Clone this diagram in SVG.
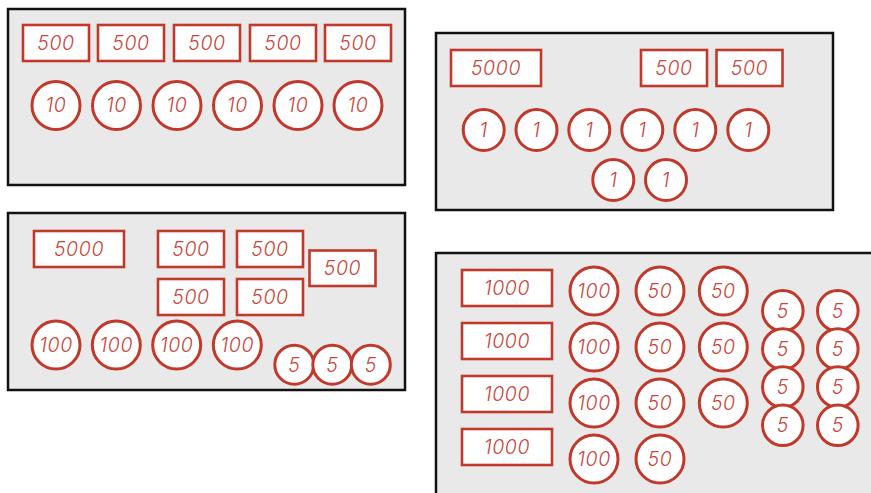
<svg xmlns="http://www.w3.org/2000/svg" width="871" height="493" viewBox="0 0 871 493">
<style>
.panel{fill:#e9e9e9;stroke:#111;stroke-width:2.5}
.note{fill:#fff;stroke:#c0392b;stroke-width:2.6}
.coin{fill:#fff;stroke:#c0392b;stroke-width:3}
.t{font-family:Inter,"DejaVu Sans",sans-serif;font-style:italic;font-weight:300;font-size:19.5px;letter-spacing:0.6px;fill:#c8463d;text-anchor:middle}
</style>
<rect width="871" height="493" fill="#fff"/>
<g id="panel1">
<rect class="panel" x="8" y="9" width="397" height="176"/>
<g id="p1n1"><rect class="note" x="23" y="25" width="66" height="36"/><text class="t" x="56" y="50">500</text></g>
<g id="p1n2"><rect class="note" x="98" y="25" width="66" height="36"/><text class="t" x="131" y="50">500</text></g>
<g id="p1n3"><rect class="note" x="174" y="25" width="66" height="36"/><text class="t" x="207" y="50">500</text></g>
<g id="p1n4"><rect class="note" x="250" y="25" width="66" height="36"/><text class="t" x="283" y="50">500</text></g>
<g id="p1n5"><rect class="note" x="325" y="25" width="66" height="36"/><text class="t" x="358" y="50">500</text></g>
<g id="p1c1"><circle class="coin" cx="56" cy="105.5" r="24"/><text class="t" x="56" y="112">10</text></g>
<g id="p1c2"><circle class="coin" cx="116.5" cy="105.5" r="24"/><text class="t" x="116.5" y="112">10</text></g>
<g id="p1c3"><circle class="coin" cx="177" cy="105.5" r="24"/><text class="t" x="177" y="112">10</text></g>
<g id="p1c4"><circle class="coin" cx="237.5" cy="105.5" r="24"/><text class="t" x="237.5" y="112">10</text></g>
<g id="p1c5"><circle class="coin" cx="298" cy="105.5" r="24"/><text class="t" x="298" y="112">10</text></g>
<g id="p1c6"><circle class="coin" cx="358" cy="105.5" r="24"/><text class="t" x="358" y="112">10</text></g>
</g>
<g id="panel2">
<rect class="panel" x="436" y="33" width="397" height="177"/>
<g id="p2n1"><rect class="note" x="451" y="50" width="90" height="36"/><text class="t" x="496" y="75">5000</text></g>
<g id="p2n2"><rect class="note" x="641" y="50" width="66" height="36"/><text class="t" x="674" y="75">500</text></g>
<g id="p2n3"><rect class="note" x="716.5" y="50" width="66" height="36"/><text class="t" x="749.5" y="75">500</text></g>
<g id="p2c1"><circle class="coin" cx="483.7" cy="130" r="20.5"/><text class="t" x="483.7" y="137">1</text></g>
<g id="p2c2"><circle class="coin" cx="536.5" cy="130" r="20.5"/><text class="t" x="536.5" y="137">1</text></g>
<g id="p2c3"><circle class="coin" cx="589.3" cy="130" r="20.5"/><text class="t" x="589.3" y="137">1</text></g>
<g id="p2c4"><circle class="coin" cx="642.3" cy="130" r="20.5"/><text class="t" x="642.3" y="137">1</text></g>
<g id="p2c5"><circle class="coin" cx="695.3" cy="130" r="20.5"/><text class="t" x="695.3" y="137">1</text></g>
<g id="p2c6"><circle class="coin" cx="748.3" cy="130" r="20.5"/><text class="t" x="748.3" y="137">1</text></g>
<g id="p2c7"><circle class="coin" cx="613.3" cy="180" r="20.5"/><text class="t" x="613.3" y="187">1</text></g>
<g id="p2c8"><circle class="coin" cx="666" cy="180" r="20.5"/><text class="t" x="666" y="187">1</text></g>
</g>
<g id="panel3">
<rect class="panel" x="8" y="213" width="397" height="177"/>
<g id="p3n1"><rect class="note" x="34" y="231" width="90" height="36"/><text class="t" x="79" y="256">5000</text></g>
<g id="p3n2"><rect class="note" x="158" y="231" width="66" height="36"/><text class="t" x="191" y="256">500</text></g>
<g id="p3n3"><rect class="note" x="237" y="231" width="66" height="36"/><text class="t" x="270" y="256">500</text></g>
<g id="p3n4"><rect class="note" x="309.5" y="250.5" width="66" height="35.5"/><text class="t" x="342.5" y="275">500</text></g>
<g id="p3n5"><rect class="note" x="158" y="279" width="66" height="36"/><text class="t" x="191" y="304">500</text></g>
<g id="p3n6"><rect class="note" x="237" y="279" width="66" height="36"/><text class="t" x="270" y="304">500</text></g>
<g id="p3c1"><circle class="coin" cx="56" cy="345" r="24"/><text class="t" x="56" y="351.5">100</text></g>
<g id="p3c2"><circle class="coin" cx="116.3" cy="345" r="24"/><text class="t" x="116.3" y="351.5">100</text></g>
<g id="p3c3"><circle class="coin" cx="176.7" cy="345" r="24"/><text class="t" x="176.7" y="351.5">100</text></g>
<g id="p3c4"><circle class="coin" cx="237.3" cy="345" r="24"/><text class="t" x="237.3" y="351.5">100</text></g>
<g id="p3c5"><circle class="coin" cx="294.3" cy="364.7" r="19.5"/><text class="t" x="294.3" y="371.5">5</text></g>
<g id="p3c6"><circle class="coin" cx="332.3" cy="364.7" r="19.5"/><text class="t" x="332.3" y="371.5">5</text></g>
<g id="p3c7"><circle class="coin" cx="370.8" cy="364.7" r="19.5"/><text class="t" x="370.8" y="371.5">5</text></g>
</g>
<g id="panel4">
<rect class="panel" x="436" y="253" width="440" height="250"/>
<g id="p4n1"><rect class="note" x="462" y="270" width="90" height="36"/><text class="t" x="507" y="295">1000</text></g>
<g id="p4n2"><rect class="note" x="462" y="323" width="90" height="36"/><text class="t" x="507" y="348">1000</text></g>
<g id="p4n3"><rect class="note" x="462" y="376" width="90" height="36"/><text class="t" x="507" y="401">1000</text></g>
<g id="p4n4"><rect class="note" x="462" y="429" width="90" height="36"/><text class="t" x="507" y="454">1000</text></g>
<g id="p4c1"><circle class="coin" cx="594" cy="291" r="24"/><text class="t" x="594" y="297.5">100</text></g>
<g id="p4c2"><circle class="coin" cx="594" cy="347" r="24"/><text class="t" x="594" y="353.5">100</text></g>
<g id="p4c3"><circle class="coin" cx="594" cy="403" r="24"/><text class="t" x="594" y="409.5">100</text></g>
<g id="p4c4"><circle class="coin" cx="594" cy="459" r="24"/><text class="t" x="594" y="465.5">100</text></g>
<g id="p4c5"><circle class="coin" cx="660" cy="291" r="24"/><text class="t" x="660" y="297.5">50</text></g>
<g id="p4c6"><circle class="coin" cx="660" cy="347" r="24"/><text class="t" x="660" y="353.5">50</text></g>
<g id="p4c7"><circle class="coin" cx="660" cy="403" r="24"/><text class="t" x="660" y="409.5">50</text></g>
<g id="p4c8"><circle class="coin" cx="660" cy="459" r="24"/><text class="t" x="660" y="465.5">50</text></g>
<g id="p4c9"><circle class="coin" cx="723.3" cy="291" r="24"/><text class="t" x="723.3" y="297.5">50</text></g>
<g id="p4c10"><circle class="coin" cx="723.3" cy="347" r="24"/><text class="t" x="723.3" y="353.5">50</text></g>
<g id="p4c11"><circle class="coin" cx="723.3" cy="403" r="24"/><text class="t" x="723.3" y="409.5">50</text></g>
<g id="p4c12"><circle class="coin" cx="782.8" cy="310.8" r="20.3"/><text class="t" x="782.8" y="317.5">5</text></g>
<g id="p4c13"><circle class="coin" cx="837.8" cy="310.8" r="20.3"/><text class="t" x="837.8" y="317.5">5</text></g>
<g id="p4c14"><circle class="coin" cx="782.8" cy="349" r="20.3"/><text class="t" x="782.8" y="355.7">5</text></g>
<g id="p4c15"><circle class="coin" cx="837.8" cy="349" r="20.3"/><text class="t" x="837.8" y="355.7">5</text></g>
<g id="p4c16"><circle class="coin" cx="782.8" cy="387" r="20.3"/><text class="t" x="782.8" y="393.7">5</text></g>
<g id="p4c17"><circle class="coin" cx="837.8" cy="387" r="20.3"/><text class="t" x="837.8" y="393.7">5</text></g>
<g id="p4c18"><circle class="coin" cx="782.8" cy="425.3" r="20.3"/><text class="t" x="782.8" y="432">5</text></g>
<g id="p4c19"><circle class="coin" cx="837.8" cy="425.3" r="20.3"/><text class="t" x="837.8" y="432">5</text></g>
</g>
</svg>
